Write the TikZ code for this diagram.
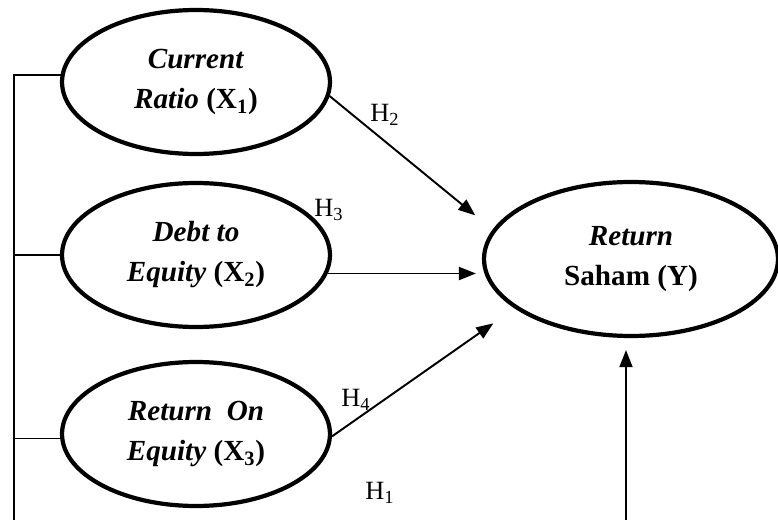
\documentclass[tikz,border=0pt]{standalone}
\usepackage{fontspec}
\setmainfont{Liberation Serif}
\usepackage{tikz}
\usetikzlibrary{arrows.meta, positioning, shapes.geometric}

\begin{document}
\begin{tikzpicture}[
  x=0.02cm, y=-0.02cm,
  var/.style={draw, ellipse, line width=2.4pt, minimum width=5.36cm, minimum height=2.88cm,
    inner sep=0pt, align=center, font=\fontsize{16.6}{22.8}\selectfont},
  dep/.style={var, minimum width=5.88cm, minimum height=3.08cm},
  arrow/.style={-{Triangle[length=3.4mm, width=2.6mm]}, line width=1.1pt},
  link/.style={line width=0.85pt},
  hyp/.style={inner sep=0pt, font=\fontsize{15}{17}\selectfont}
]
\useasboundingbox (0,0) rectangle (778,520);

% Nodes
\node[var] (x1) at (196,82) {\textbf{\textit{Current}} \\ \textbf{\textit{Ratio} (X\textsubscript{1})}};
\node[var] (x2) at (196,255) {\textbf{\textit{Debt to}} \\ \textbf{\textit{Equity} (X\textsubscript{2})}};
\node[var] (x3) at (196,434) {\textbf{\textit{Return~~On}} \\ \textbf{\textit{Equity} (X\textsubscript{3})}};
\node[dep] (y) at (631,259) {\textbf{\textit{Return}} \\ \textbf{Saham (Y)}};

\coordinate (lb) at (14,520);
\coordinate (yb) at (626,520);

% Labels
\node[hyp] (h1) at (380,493) {H\textsubscript{1}};
\node[hyp] (h2) at (385,115) {H\textsubscript{2}};
\node[hyp] (h3) at (329,210) {H\textsubscript{3}};
\node[hyp] (h4) at (356,400) {H\textsubscript{4}};

% Pointers
\draw[arrow, shorten >=0.45cm] (x1.-6) -- (y.168);
\draw[arrow, shorten >=0.12cm] (x2.-8) -- (x2.-8 -| y.west);
\draw[arrow, shorten >=0.52cm] (x3.-1.5) -- (y.203);
\draw[arrow, shorten >=0.24cm] (yb) -- (yb |- y.south);

% Bracket
\draw[link] (x1.177) -| (lb);
\draw[link] (x2.west) -- (x2.west -| lb);
\draw[link] (x3.182) -- (x3.182 -| lb);

\end{tikzpicture}
\end{document}
